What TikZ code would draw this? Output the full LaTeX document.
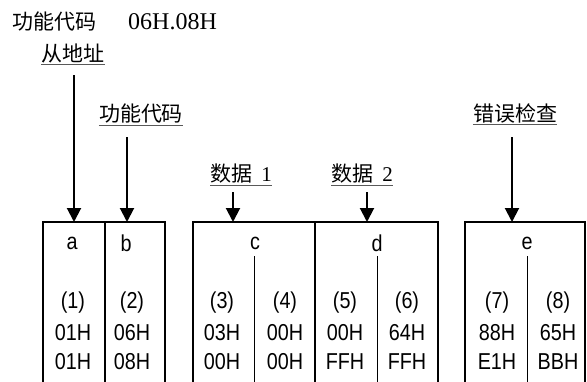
\documentclass[tikz,border=0pt]{standalone}
\usepackage{fontspec}
\usetikzlibrary{arrows.meta}
\newfontfamily\cjk{Noto Sans CJK SC}
\newfontfamily\gothic[FakeStretch=0.86]{Liberation Sans}
\newfontfamily\serifnum{Liberation Serif}
\tikzset{
  lbl/.style={inner sep=0pt, font=\cjk\fontsize{21}{24}\selectfont},
  ul/.style={line width=1pt, draw=black!65},
  arr/.style={line width=2pt, -{Triangle[length=14pt,width=14pt]}},
  outer/.style={line width=2.6pt},
  mid/.style={line width=2pt},
  thin/.style={line width=0.9pt},
  cell/.style={inner sep=0pt, font=\gothic\fontsize{23}{26}\selectfont},
}
\begin{document}
\begin{tikzpicture}[x=1pt,y=-1pt]
\useasboundingbox (0,0) rectangle (587,381);
\clip (0,0) rectangle (587,381);
\fill[white] (0,0) rectangle (587,381);
% title
\node[lbl, anchor=west] (title) at (12,22) {功能代码};
\node[inner sep=0pt, anchor=west, font=\serifnum\fontsize{24}{26}\selectfont] (titleval) at (128,22) {06H.08H};
% labels
\node[lbl] (lA) at (73,53) {从地址};
\node[lbl] (lB) at (141,114) {功能代码};
\node[lbl] (lC) at (241,174) {数据\hspace{9pt}{\serifnum 1}};
\node[lbl] (lD) at (362,174) {数据\hspace{9pt}{\serifnum 2}};
\node[lbl] (lE) at (515,113) {错误检查};
\foreach \n in {lA,lB,lC,lD,lE}{
  \draw[ul] ([yshift=-2pt]\n.south west) -- ([yshift=-2pt]\n.south east);
}
% arrow coordinates
\coordinate (sA) at (74,75);   \coordinate (tA) at (74,222);
\coordinate (sB) at (127,137); \coordinate (tB) at (127,222);
\coordinate (sC) at (233,192); \coordinate (tC) at (233,222);
\coordinate (sD) at (367,192); \coordinate (tD) at (367,222);
\coordinate (sE) at (512,137); \coordinate (tE) at (512,222);
\foreach \n in {A,B,C,D,E}{ \draw[arr] (s\n) -- (t\n); }
% boxes (open at bottom)
\draw[outer] (43,395) -- (43,222) -- (165,222) -- (165,395);
\draw[mid] (105,222) -- (105,395);
\draw[outer] (193,395) -- (193,222) -- (438,222) -- (438,395);
\draw[mid] (315,222) -- (315,395);
\draw[thin] (254,256) -- (254,395);
\draw[thin] (377,256) -- (377,395);
\draw[outer] (465,395) -- (465,222) -- (585,222) -- (585,395);
\draw[thin] (527,256) -- (527,395);
% letters
\node[cell] (ca) at (72,243) {a};
\node[cell] (cb) at (126,243) {b};
\node[cell] (cc) at (255,243) {c};
\node[cell] (cd) at (377,243) {d};
\node[cell] (ce) at (527,243) {e};
% column values
\foreach \x/\p/\u/\v [count=\i] in {73/(1)/01H/01H, 132/(2)/06H/08H, 222/(3)/03H/00H, 285/(4)/00H/00H, 345/(5)/00H/FFH, 407/(6)/64H/FFH, 497/(7)/88H/E1H, 558/(8)/65H/BBH}{
  \node[cell] (p\i) at (\x,303) {\p};
  \node[cell] (u\i) at (\x,333) {\u};
  \node[cell] (v\i) at (\x,362) {\v};
}
\end{tikzpicture}
\end{document}
